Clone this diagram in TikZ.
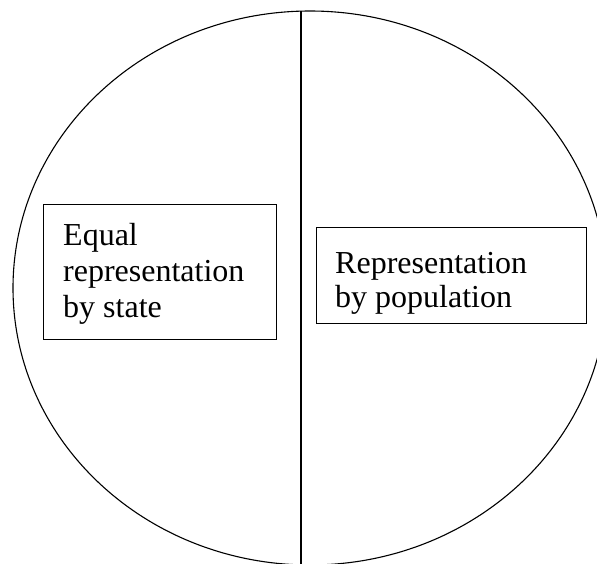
\documentclass[tikz,border=0pt]{standalone}
\usepackage{fontspec}
\setmainfont{Liberation Serif}
\begin{document}
\begin{tikzpicture}[x=1pt,y=-1pt,
  outline/.style={draw=black,line width=1.1pt},
  frame/.style={draw=black,line width=1.1pt,inner sep=0pt,anchor=north west},
  label/.style={anchor=base west,inner sep=0pt,align=left,font=\fontsize{32}{36}\selectfont}]
\useasboundingbox (0,0) rectangle (597,563);
\begin{scope}
\clip (0,0) rectangle (597,563);
\draw[outline] (310,288) ellipse [x radius=297, y radius=277];
\coordinate (top) at (301,11);
\coordinate (bottom) at (301,570);
\draw[outline] (top) -- (bottom);
\end{scope}
\node[frame,minimum width=233pt,minimum height=135pt] (boxL) at (43,204) {};
\node[label] (textL) at (63,317) {Equal\\representation\\by state};
\node[frame,minimum width=270pt,minimum height=96pt] (boxR) at (316,227) {};
\node[label,font=\fontsize{32}{34}\selectfont] (textR) at (335,307) {Representation\\by population};
\end{tikzpicture}
\end{document}
